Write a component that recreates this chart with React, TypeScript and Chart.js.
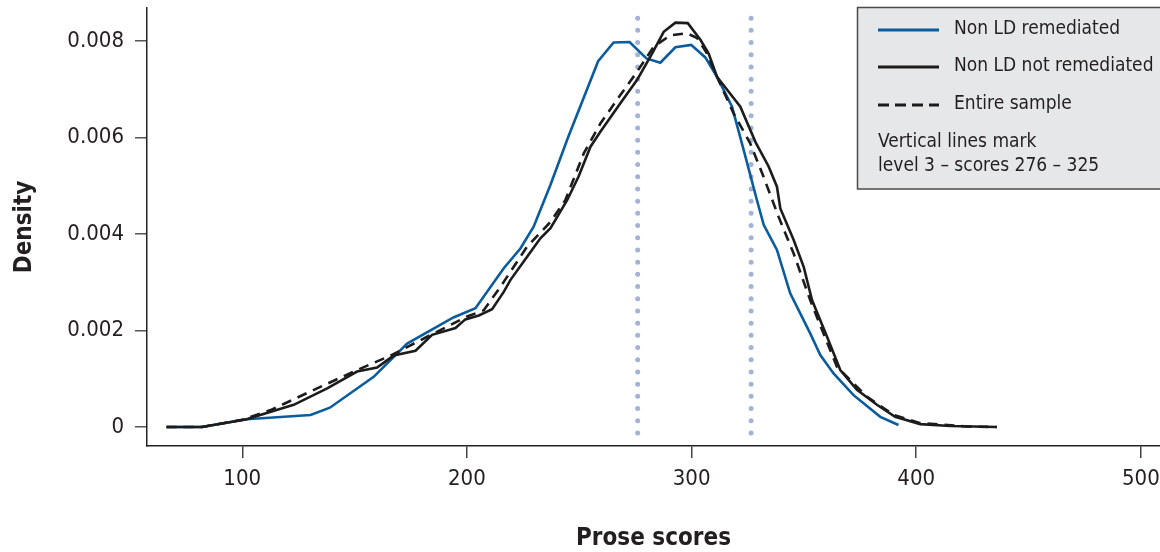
import React, { useEffect, useRef } from 'react';
import { Chart, registerables } from 'chart.js';

Chart.register(...registerables);

// ---- Data ----
const remediatedX = [66.3, 82, 102, 130.4, 139, 158.5, 173.4, 194, 203.8, 216.4, 223.8, 229.7, 237.2, 245, 258.4, 265.3, 272.4, 279.9, 286.1, 292.8, 299.8, 306.1, 311.3, 318, 323.2, 329.1, 332.1, 338, 343.9, 352.8, 357.3, 363.2, 372.1, 384, 392.1];
const remediatedY = [0, 0, 0.00016, 0.00025, 0.0004, 0.00104, 0.00173, 0.00227, 0.00246, 0.00329, 0.0037, 0.00415, 0.00502, 0.006, 0.00758, 0.00797, 0.00798, 0.00764, 0.00755, 0.00787, 0.00792, 0.00766, 0.00726, 0.00664, 0.00574, 0.0047, 0.00419, 0.00367, 0.00277, 0.00194, 0.00149, 0.00111, 0.00066, 0.00021, 0.00004];

const notRemediatedX = [66.3, 82, 102, 108, 122.9, 137.8, 151.1, 160, 167.4, 177.1, 184.5, 194.9, 199.3, 205.3, 211.2, 216.4, 219.4, 226.8, 232.7, 237.2, 244.6, 249.7, 255, 259.4, 268.3, 275.7, 282.4, 287.6, 292.8, 298.3, 304, 307.6, 311.3, 321.7, 328.5, 334.3, 338, 339.5, 345.4, 349.9, 353.6, 360.3, 366.2, 373.6, 382.5, 390.6, 401.8, 415.1, 435.9];
const notRemediatedY = [0, 0, 0.00016, 0.00025, 0.00046, 0.0008, 0.00115, 0.00123, 0.00148, 0.00158, 0.00191, 0.00205, 0.00223, 0.00231, 0.00244, 0.0028, 0.00305, 0.00353, 0.00391, 0.00412, 0.0047, 0.00519, 0.00581, 0.00612, 0.00671, 0.00719, 0.00774, 0.00819, 0.00838, 0.00837, 0.00802, 0.00774, 0.00726, 0.00664, 0.0059, 0.0054, 0.00498, 0.00453, 0.00388, 0.00332, 0.00263, 0.00187, 0.00118, 0.00077, 0.00046, 0.00021, 0.00006, 0.00002, 0];

const entireX = [66.3, 82, 100, 112.6, 133.3, 151.1, 166, 182.3, 200.1, 207.5, 215, 226.8, 237.2, 243.8, 252, 259.4, 268.3, 275.7, 283.1, 290.6, 298, 302.5, 306.9, 311.3, 318.7, 326.1, 332, 338.7, 345.4, 352.8, 358.7, 364.7, 378, 389.9, 401.8, 422.6, 435.9];
const entireY = [0, 0, 0.00015, 0.00035, 0.0008, 0.00118, 0.00148, 0.00187, 0.00229, 0.00242, 0.00291, 0.00374, 0.00425, 0.0047, 0.00567, 0.00629, 0.00688, 0.00736, 0.00788, 0.00812, 0.00816, 0.00806, 0.00774, 0.00726, 0.0065, 0.00588, 0.00519, 0.00436, 0.0036, 0.00263, 0.00194, 0.00125, 0.00063, 0.00025, 0.00008, 0.00001, 0];

const levelLines = [276, 326.5];
const levelLineSpan = [-0.000124, 0.00866];

const xTicks = [100, 200, 300, 400, 500];
const yTicks = [0, 0.002, 0.004, 0.006, 0.008];
const yTickLabels = ['0', '0.002', '0.004', '0.006', '0.008'];

const seriesLabels = ['Non LD remediated', 'Non LD not remediated', 'Entire sample'];
const noteLines = ['Vertical lines mark', 'level 3 \u2013 scores 276 \u2013 325'];
const xTitle = 'Prose scores';
const yTitle = 'Density';

const X_MIN = 57.6;
const X_MAX = 508.5;
const Y_MIN = -0.000394;
const Y_MAX = 0.008684;

const FONT = "'DejaVu Sans Condensed', 'DejaVu Sans', sans-serif";
const BLUE = '#0a5c9e';
const BLACK = '#1c1c1c';
const DOT = '#a3b3d8';
const TEXT = '#231f20';

const zip = (xs: number[], ys: number[]) => xs.map((x, i) => ({ x, y: ys[i] }));

const legendPlugin = {
  id: 'boxLegend',
  afterDraw(chart: any) {
    const ctx = chart.ctx as CanvasRenderingContext2D;
    ctx.save();
    ctx.fillStyle = '#e6e7e8';
    ctx.fillRect(857.5, 7.5, 320, 181.5);
    ctx.strokeStyle = '#4a4a4a';
    ctx.lineWidth = 1.5;
    ctx.strokeRect(857.5, 7.5, 320, 181.5);

    const rows = [30, 67, 105];
    const styles = [
      { color: BLUE, dash: [] as number[] },
      { color: BLACK, dash: [] as number[] },
      { color: BLACK, dash: [11, 6] },
    ];
    rows.forEach((y, i) => {
      ctx.beginPath();
      ctx.setLineDash(styles[i].dash);
      ctx.strokeStyle = styles[i].color;
      ctx.lineWidth = 2.8;
      ctx.moveTo(878, y);
      ctx.lineTo(939, y);
      ctx.stroke();
    });
    ctx.setLineDash([]);
    ctx.fillStyle = TEXT;
    ctx.font = `19px ${FONT}`;
    ctx.textBaseline = 'middle';
    ctx.textAlign = 'left';
    seriesLabels.forEach((t, i) => ctx.fillText(t, 954, [29.5, 66.5, 104][i]));
    noteLines.forEach((t, i) => ctx.fillText(t, 878, [142, 166.5][i]));
    ctx.restore();
  },
};

export default function App() {
  const ref = useRef<HTMLCanvasElement | null>(null);

  useEffect(() => {
    if (!ref.current) return;
    const chart = new Chart(ref.current, {
      type: 'line',
      data: {
        datasets: [
          {
            label: seriesLabels[1],
            data: zip(notRemediatedX, notRemediatedY),
            borderColor: BLACK,
            borderWidth: 2.6,
            pointRadius: 0,
            tension: 0,
            fill: false,
            order: 1,
          },
          {
            label: seriesLabels[2],
            data: zip(entireX, entireY),
            borderColor: BLACK,
            borderWidth: 2.6,
            borderDash: [10, 7],
            pointRadius: 0,
            tension: 0,
            fill: false,
            order: 2,
          },
          {
            label: seriesLabels[0],
            data: zip(remediatedX, remediatedY),
            borderColor: BLUE,
            borderWidth: 2.6,
            pointRadius: 0,
            tension: 0,
            fill: false,
            order: 3,
          },
          ...levelLines.map((lx) => ({
            label: 'level ' + lx,
            data: levelLineSpan.map((y) => ({ x: lx, y })),
            borderColor: DOT,
            borderWidth: 5,
            borderDash: [0, 12.2],
            borderCapStyle: 'round' as const,
            pointRadius: 0,
            fill: false,
            order: 10,
          })),
        ],
      },
      options: {
        animation: false,
        responsive: false,
        devicePixelRatio: 1,
        layout: { padding: { top: 8, left: 0, right: 0, bottom: 0 } },
        plugins: {
          legend: { display: false },
          tooltip: { enabled: false },
        },
        scales: {
          x: {
            type: 'linear',
            position: 'bottom',
            min: X_MIN,
            max: X_MAX,
            afterBuildTicks: (s: any) => {
              s.ticks = xTicks.map((v) => ({ value: v }));
            },
            afterFit: (s: any) => {
              s.height = 106;
              s.paddingLeft = 0;
              s.paddingRight = 0;
            },
            ticks: {
              autoSkip: false,
              maxRotation: 0,
              padding: 10.3,
              color: TEXT,
              font: { family: FONT, size: 22, lineHeight: 1 },
              callback: (v: any) => String(v),
            },
            grid: {
              display: true,
              drawOnChartArea: false,
              drawTicks: true,
              tickLength: 12,
              color: '#444',
              lineWidth: 1.5,
            },
            border: { display: true, color: '#222', width: 1.5 },
            title: {
              display: true,
              text: xTitle,
              color: TEXT,
              font: { family: FONT, size: 24, weight: 'bold', lineHeight: 1 },
              padding: { top: 0, bottom: 1.3 },
            },
          },
          y: {
            type: 'linear',
            min: Y_MIN,
            max: Y_MAX,
            afterBuildTicks: (s: any) => {
              s.ticks = yTicks.map((v) => ({ value: v }));
            },
            afterFit: (s: any) => {
              s.width = 147;
              s.paddingTop = 0;
              s.paddingBottom = 0;
            },
            ticks: {
              autoSkip: false,
              padding: 11,
              color: TEXT,
              font: { family: FONT, size: 22, lineHeight: 1 },
              callback: (v: any) => {
                const i = yTicks.indexOf(v);
                return i >= 0 ? yTickLabels[i] : '';
              },
            },
            grid: {
              display: true,
              drawOnChartArea: false,
              drawTicks: true,
              tickLength: 12,
              color: '#555',
              lineWidth: 1.5,
            },
            border: { display: true, color: '#222', width: 1.5 },
            title: {
              display: true,
              text: yTitle,
              color: TEXT,
              font: { family: FONT, size: 24, weight: 'bold', lineHeight: 1 },
              padding: { top: 12.7, bottom: 0 },
            },
          },
        },
      },
      plugins: [legendPlugin],
    });
    return () => chart.destroy();
  }, []);

  return (
    <div style={{ position: 'absolute', left: 0, top: 0, width: 1160, height: 552, background: '#fff' }}>
      <canvas ref={ref} width={1160} height={552} style={{ width: 1160, height: 552, display: 'block' }} />
    </div>
  );
}
